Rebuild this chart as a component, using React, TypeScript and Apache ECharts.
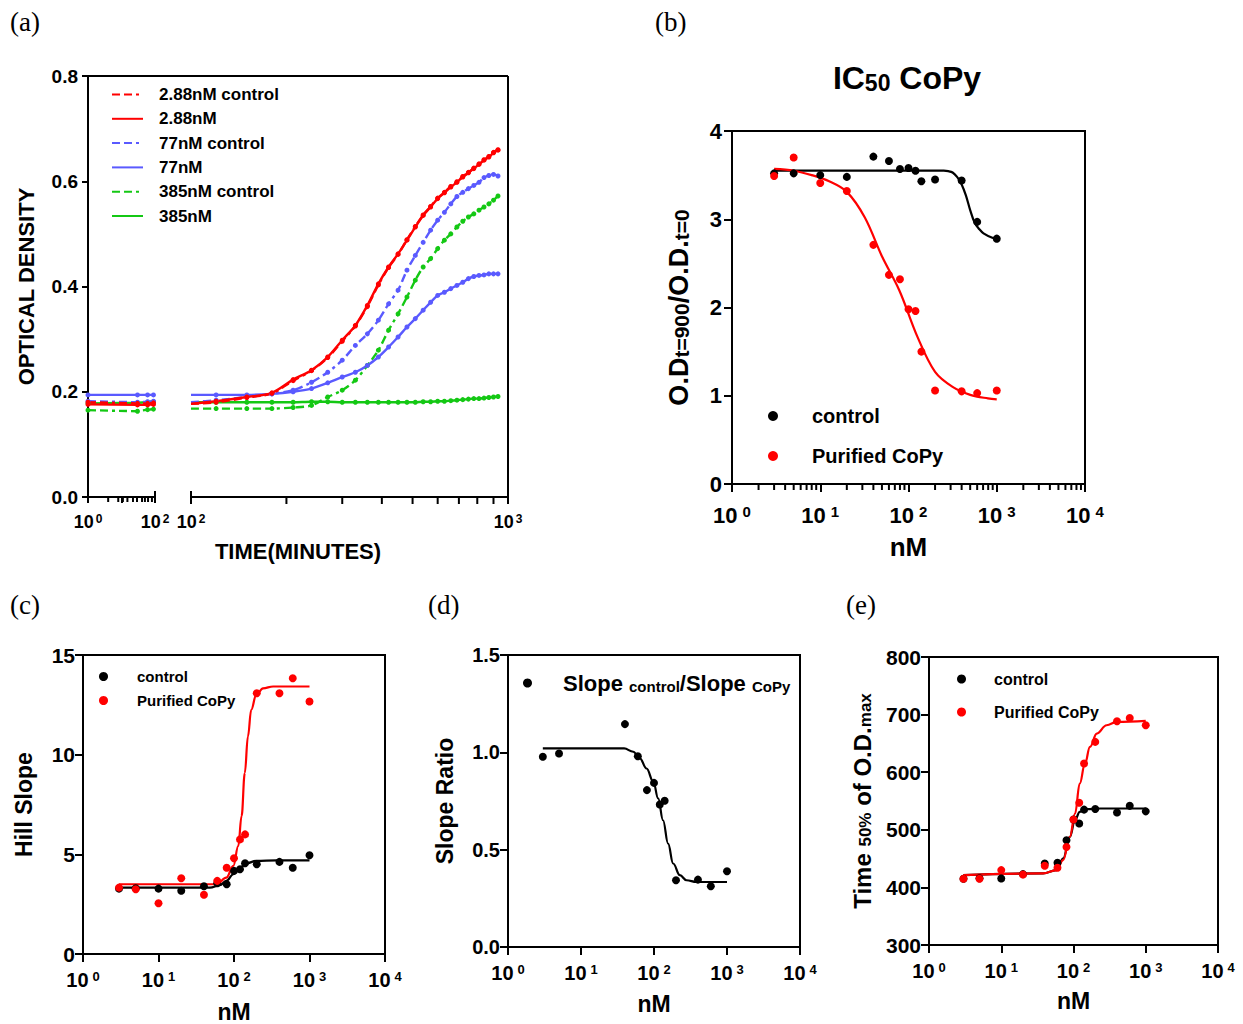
import React, { useEffect, useRef } from 'react';
import * as echarts from 'echarts';

const F = '"Liberation Sans", Arial, Helvetica, sans-serif';
const SERIF = '"Liberation Serif", "DejaVu Serif", serif';
const RED = '#ff0000';
const BLUE = '#5a5aff';
const GREEN = '#14c814';
const BLACK = '#000000';
const DASH = [8, 4, 8, 4, 3, 4];

// ---------------- Panel (a): growth curves (time in minutes) ----------------
const aNames = ['2.88nM control', '2.88nM', '77nM control', '77nM', '385nM control', '385nM'];
const timeA = [1, 30, 60, 90];
const timeB = [120, 150, 180, 210, 240, 270, 300, 330, 360, 390, 420, 450, 480, 510, 540, 570, 600, 630, 660, 690, 720, 750, 780, 810, 840, 870, 900, 930];
const breakTime = 100;

const red288CtrlA = [0.180, 0.178, 0.178, 0.179];
const red288A = [0.176, 0.175, 0.175, 0.176];
const blue77CtrlA = [0.182, 0.180, 0.181, 0.182];
const blue77A = [0.194, 0.194, 0.194, 0.194];
const green385CtrlA = [0.165, 0.163, 0.166, 0.167];
const green385A = [0.178, 0.179, 0.180, 0.181];

// line level at the axis break (t = 100) for segment A end / segment B start
const edgeA = [0.178, 0.175, 0.180, 0.194, 0.167, 0.180];
const edgeB = [0.177, 0.177, 0.180, 0.194, 0.168, 0.180];

const red288CtrlB = [0.180, 0.189, 0.197, 0.221, 0.240, 0.265, 0.296, 0.325, 0.362, 0.403, 0.436, 0.461, 0.489, 0.514, 0.536, 0.552, 0.568, 0.579, 0.590, 0.599, 0.609, 0.617, 0.625, 0.633, 0.641, 0.647, 0.655, 0.660];
const red288B = [0.182, 0.190, 0.198, 0.223, 0.241, 0.266, 0.298, 0.326, 0.364, 0.405, 0.437, 0.462, 0.488, 0.513, 0.535, 0.551, 0.567, 0.578, 0.589, 0.598, 0.608, 0.616, 0.624, 0.632, 0.640, 0.646, 0.654, 0.659];
const blue77CtrlB = [0.184, 0.190, 0.196, 0.203, 0.218, 0.237, 0.260, 0.288, 0.310, 0.336, 0.367, 0.393, 0.431, 0.459, 0.484, 0.507, 0.526, 0.541, 0.557, 0.571, 0.579, 0.586, 0.592, 0.598, 0.607, 0.611, 0.613, 0.610];
const blue77B = [0.194, 0.194, 0.196, 0.200, 0.206, 0.217, 0.228, 0.237, 0.250, 0.266, 0.285, 0.304, 0.323, 0.339, 0.355, 0.370, 0.383, 0.389, 0.396, 0.402, 0.408, 0.415, 0.419, 0.421, 0.422, 0.424, 0.424, 0.424];
const green385CtrlB = [0.168, 0.168, 0.168, 0.170, 0.174, 0.190, 0.203, 0.222, 0.250, 0.279, 0.317, 0.348, 0.380, 0.412, 0.437, 0.453, 0.472, 0.488, 0.500, 0.513, 0.524, 0.532, 0.538, 0.545, 0.551, 0.557, 0.564, 0.572];
const green385B = [0.180, 0.180, 0.180, 0.180, 0.181, 0.181, 0.180, 0.180, 0.180, 0.180, 0.180, 0.180, 0.180, 0.180, 0.181, 0.181, 0.182, 0.182, 0.183, 0.184, 0.185, 0.186, 0.187, 0.187, 0.188, 0.189, 0.190, 0.191];

const aTicksA = [4, 8, 11, 15, 22, 29, 41, 50, 62, 81];
const aTicksB = [200, 300, 400, 500, 600, 700, 800, 900];

// ---------------- Shared concentrations (nM) ----------------
const conc = [3, 5, 10, 20, 40, 60, 80, 100, 120, 140, 200, 400, 600, 1000];
const logMinor = [2, 3, 4, 5, 6, 7, 8, 9, 20, 30, 40, 50, 60, 70, 80, 90, 200, 300, 400, 500, 600, 700, 800, 900, 2000, 3000, 4000, 5000, 6000, 7000, 8000, 9000];

// ---------------- Panel (b): IC50 CoPy ----------------
const bControl = [3.52, 3.52, 3.50, 3.48, 3.71, 3.66, 3.57, 3.58, 3.55, 3.43, 3.45, 3.44, 2.97, 2.78];
const bCoPy = [3.49, 3.70, 3.41, 3.32, 2.71, 2.37, 2.32, 1.98, 1.96, 1.50, 1.06, 1.05, 1.03, 1.06];
const bControlFitX = [3, 20, 100, 200, 251, 282, 316, 355, 398, 447, 501, 562, 631, 708, 891, 1000];
const bControlFitY = [3.55, 3.55, 3.55, 3.55, 3.55, 3.545, 3.53, 3.48, 3.40, 3.27, 3.10, 2.96, 2.89, 2.84, 2.79, 2.78];
const bCoPyFitX = [3, 5, 8, 12.6, 20, 32, 50, 79, 126, 200, 316, 501, 794, 1000];
const bCoPyFitY = [3.57, 3.55, 3.50, 3.43, 3.31, 3.02, 2.58, 2.19, 1.67, 1.27, 1.10, 1.01, 0.97, 0.96];

// ---------------- Panel (c): Hill slope ----------------
const cControl = [3.28, 3.30, 3.28, 3.17, 3.40, 3.55, 3.50, 4.17, 4.25, 4.55, 4.50, 4.62, 4.33, 4.95];
const cCoPy = [3.33, 3.25, 2.55, 3.80, 2.97, 3.67, 4.33, 4.80, 5.75, 6.00, 13.08, 13.08, 13.83, 12.67];
const cControlFitX = [3, 48, 65, 79, 98, 120, 146, 197, 366, 1000];
const cControlFitY = [3.33, 3.33, 3.45, 3.67, 4.00, 4.33, 4.55, 4.67, 4.70, 4.70];
const cCoPyFitX = [3, 59, 79, 98, 114, 126, 139, 153, 169, 197, 242, 330, 1000];
const cCoPyFitY = [3.50, 3.50, 3.83, 4.42, 5.42, 6.92, 9.08, 10.92, 12.25, 13.00, 13.33, 13.42, 13.42];

// ---------------- Panel (d): slope ratio ----------------
const dConc = [3, 5, 40, 60, 80, 100, 120, 140, 200, 400, 600, 1000];
const dRatio = [0.977, 0.994, 1.145, 0.980, 0.806, 0.843, 0.732, 0.751, 0.343, 0.346, 0.312, 0.389];
const dFitX = [3, 39, 52, 64, 79, 98, 114, 133, 156, 183, 226, 279, 381, 1000];
const dFitY = [1.02, 1.02, 1.003, 0.969, 0.917, 0.849, 0.763, 0.651, 0.531, 0.429, 0.369, 0.343, 0.334, 0.334];

// ---------------- Panel (e): time to 50% of max OD ----------------
const eControl = [415, 416, 415.6, 423, 441.6, 442.8, 482, 518, 511, 535, 536, 530, 541.6, 532];
const eCoPy = [415, 415, 430, 422.5, 437.5, 434, 470, 518, 547, 615, 652.6, 688.4, 694.2, 681.5];
const eControlFitX = [3, 38, 58, 72, 89, 105, 122, 152, 233, 1000];
const eControlFitY = [421.4, 424.3, 430, 450.3, 487.9, 516.8, 531.2, 535.8, 537, 537];
const eCoPyFitX = [3, 38, 58, 72, 89, 105, 122, 144, 169, 210, 287, 397, 1000];
const eCoPyFitY = [421.4, 424.3, 430, 447.4, 487.9, 528.3, 580.3, 615, 643.9, 667, 681.5, 687.3, 689];

// ---------------- Layout ----------------
const GA = { left: 88, top: 76, width: 67, height: 421 };
const GB = { left: 191, top: 76, width: 317, height: 421 };
const G2 = { left: 732, top: 131, width: 353, height: 353 };
const G3 = { left: 83, top: 655, width: 302, height: 300 };
const G4 = { left: 508, top: 655, width: 292, height: 292 };
const G5 = { left: 929, top: 657, width: 289, height: 288 };

const zip = (xs: number[], ys: number[]) => xs.map((x, i) => [x, ys[i]]);

const supLabel = (fs: number, sfs: number, margin: number, hide: number[] = [], gap = 0.22) => ({
  margin,
  color: '#000',
  formatter: (v: number) => {
    const e = Math.round(Math.log10(v));
    if (hide.indexOf(e) >= 0) return '';
    return `{b|10}{s|${e}}`;
  },
  rich: {
    b: { fontFamily: F, fontWeight: 'bold', fontSize: fs, color: '#000' },
    s: { fontFamily: F, fontWeight: 'bold', fontSize: sfs, color: '#000', verticalAlign: 'top', padding: [0, 0, 0, Math.round(fs * gap)] },
  },
});

const axLine = { show: true, onZero: false, lineStyle: { color: '#000', width: 2 } };

function logX(gi: number, min: number, max: number, o: any) {
  return {
    type: 'log', logBase: 10, gridIndex: gi, min, max,
    axisLine: axLine,
    axisTick: { show: true, length: o.tick, lineStyle: { color: '#000', width: 2 } },
    splitLine: { show: false },
    axisLabel: supLabel(o.fs, o.sfs, o.margin, o.hide, o.gap),
    name: o.name || '',
    nameLocation: 'middle',
    nameGap: o.nameGap || 0,
    nameTextStyle: { fontFamily: F, fontWeight: 'bold', fontSize: o.nameFs || 22, color: '#000' },
  };
}

function valY(gi: number, min: number, max: number, interval: number, o: any) {
  return {
    type: 'value', gridIndex: gi, min, max, interval,
    show: o.show !== false,
    axisLine: axLine,
    axisTick: { show: true, length: o.tick, lineStyle: { color: '#000', width: 2 } },
    splitLine: { show: false },
    axisLabel: { color: '#000', fontFamily: F, fontWeight: 'bold', fontSize: o.fs, margin: o.margin, formatter: o.fmt },
    name: o.name || '',
    nameLocation: 'middle',
    nameRotate: 90,
    nameGap: o.nameGap || 0,
    nameTextStyle: { fontFamily: F, fontWeight: 'bold', fontSize: o.nameFs || 22, color: '#000', rich: o.rich },
  };
}

function tickSeries(gi: number, values: number[], yMin: number, len: number, up = 0) {
  return {
    type: 'custom', xAxisIndex: gi, yAxisIndex: gi, silent: true, clip: false, z: 5,
    data: values.map((v) => [v, yMin]),
    renderItem: (_p: any, api: any) => {
      const p = api.coord([api.value(0), api.value(1)]);
      return { type: 'line', shape: { x1: p[0], y1: p[1] - up, x2: p[0], y2: p[1] + len }, style: { stroke: '#000', lineWidth: 2 } };
    },
  };
}

function scatter(gi: number, name: string, color: string, xs: number[], ys: number[], size = 8) {
  return { type: 'scatter', name, xAxisIndex: gi, yAxisIndex: gi, symbol: 'circle', symbolSize: size, itemStyle: { color, opacity: 1 }, data: zip(xs, ys), z: 4 };
}

function fit(gi: number, color: string, xs: number[], ys: number[], mono = true) {
  return {
    type: 'line', xAxisIndex: gi, yAxisIndex: gi, symbol: 'none', smooth: mono ? 0.4 : 0.35, smoothMonotone: mono ? 'x' : undefined,
    lineStyle: { color, width: 2.2 }, data: zip(xs, ys), z: 3, silent: true,
  };
}

function buildOption() {
  const aColors = [RED, RED, BLUE, BLUE, GREEN, GREEN];
  const aDashed = [true, false, true, false, true, false];
  const aPtsA = [red288CtrlA, red288A, blue77CtrlA, blue77A, green385CtrlA, green385A];
  const aPtsB = [red288CtrlB, red288B, blue77CtrlB, blue77B, green385CtrlB, green385B];
  const drawOrder = [5, 4, 3, 2, 0, 1];

  const series: any[] = [];
  drawOrder.forEach((k) => {
    series.push({
      type: 'line', name: aNames[k], xAxisIndex: 0, yAxisIndex: 0, symbol: 'none', smooth: false,
      lineStyle: { color: aColors[k], width: 2.4, type: aDashed[k] ? DASH : 'solid' }, itemStyle: { color: aColors[k] },
      data: [...zip(timeA, aPtsA[k]), [breakTime, edgeA[k]]],
    });
  });
  drawOrder.forEach((k) => {
    series.push({
      type: 'line', name: aNames[k], xAxisIndex: 1, yAxisIndex: 1, symbol: 'none', smooth: 0.3,
      lineStyle: { color: aColors[k], width: 2.4, type: aDashed[k] ? DASH : 'solid' }, itemStyle: { color: aColors[k] },
      data: [[breakTime, edgeB[k]], ...zip(timeB, aPtsB[k])],
    });
  });
  drawOrder.forEach((k) => {
    series.push(scatter(0, aNames[k] + ' pts', aColors[k], timeA, aPtsA[k], 5));
    series.push(scatter(1, aNames[k] + ' pts', aColors[k], timeB, aPtsB[k], 5));
  });
  series.push(tickSeries(0, aTicksA, 0, 5));
  series.push(tickSeries(1, aTicksB, 0, 7));
  series.push(tickSeries(0, [breakTime], 0, 6, 6));
  series.push(tickSeries(1, [breakTime], 0, 6, 6));

  // (b)
  series.push(scatter(2, 'control', BLACK, conc, bControl));
  series.push(scatter(2, 'Purified CoPy', RED, conc, bCoPy));
  series.push(fit(2, BLACK, bControlFitX, bControlFitY, false));
  series.push(fit(2, RED, bCoPyFitX, bCoPyFitY, false));
  series.push(tickSeries(2, logMinor, 0, 6));
  // (c)
  series.push(fit(3, BLACK, cControlFitX, cControlFitY));
  series.push(fit(3, RED, cCoPyFitX, cCoPyFitY));
  series.push(scatter(3, 'control', BLACK, conc, cControl));
  series.push(scatter(3, 'Purified CoPy', RED, conc, cCoPy));
  // (d)
  series.push(fit(4, BLACK, dFitX, dFitY));
  series.push(scatter(4, 'Slope control/Slope CoPy', BLACK, dConc, dRatio));
  // (e)
  series.push(fit(5, BLACK, eControlFitX, eControlFitY));
  series.push(fit(5, RED, eCoPyFitX, eCoPyFitY));
  series.push(scatter(5, 'control', BLACK, conc, eControl));
  series.push(scatter(5, 'Purified CoPy', RED, conc, eCoPy));

  const gridBase = { containLabel: false };
  const boxed = { show: true, borderColor: '#000', borderWidth: 2 };

  const legendText = (fs: number, pad: number, bold = true) => ({
    fontFamily: F, fontSize: fs, fontWeight: bold ? 'bold' : 'normal', color: '#000', padding: [0, 0, 0, pad],
  });

  return {
    animation: false,
    backgroundColor: '#ffffff',
    grid: [
      { ...gridBase, ...GA },
      { ...gridBase, ...GB },
      { ...gridBase, ...boxed, ...G2 },
      { ...gridBase, ...boxed, ...G3 },
      { ...gridBase, ...boxed, ...G4 },
      { ...gridBase, ...boxed, ...G5 },
    ],
    xAxis: [
      logX(0, 1, 100, { tick: 6, fs: 18, sfs: 12, margin: 16, hide: [1], gap: 0.12 }),
      logX(1, 100, 1000, { tick: 7, fs: 18, sfs: 12, margin: 16, gap: 0.12 }),
      logX(2, 1, 10000, { tick: 8, fs: 22, sfs: 15, margin: 20, name: 'nM', nameGap: 50, nameFs: 26 }),
      logX(3, 1, 10000, { tick: 8, fs: 20, sfs: 13, margin: 16, name: 'nM', nameGap: 46, nameFs: 23 }),
      logX(4, 1, 10000, { tick: 8, fs: 20, sfs: 13, margin: 16, name: 'nM', nameGap: 45, nameFs: 23 }),
      logX(5, 1, 10000, { tick: 8, fs: 20, sfs: 13, margin: 16, name: 'nM', nameGap: 44, nameFs: 23 }),
    ],
    yAxis: [
      valY(0, 0, 0.8, 0.2, { tick: 6, fs: 19, margin: 10, fmt: (v: number) => v.toFixed(1), name: 'OPTICAL DENSITY', nameGap: 51, nameFs: 22 }),
      valY(1, 0, 0.8, 0.2, { show: false, tick: 0, fs: 10, margin: 0 }),
      valY(2, 0, 4, 1, {
        tick: 8, fs: 22, margin: 10, fmt: (v: number) => String(v), nameGap: 40,
        name: '{b|O.D}{s|t=900}{b|/O.D.}{s|t=0}',
        rich: {
          b: { fontFamily: F, fontWeight: 'bold', fontSize: 27, color: '#000' },
          s: { fontFamily: F, fontWeight: 'bold', fontSize: 21, color: '#000', verticalAlign: 'bottom' },
        },
      }),
      valY(3, 0, 15, 5, { tick: 8, fs: 21, margin: 8, fmt: (v: number) => String(v), name: 'Hill Slope', nameGap: 48, nameFs: 23 }),
      valY(4, 0, 1.5, 0.5, { tick: 8, fs: 20, margin: 8, fmt: (v: number) => v.toFixed(1), name: 'Slope Ratio', nameGap: 52, nameFs: 23 }),
      valY(5, 300, 800, 100, {
        tick: 8, fs: 21, margin: 8, fmt: (v: number) => String(v), nameGap: 55,
        name: '{b|Time }{s|50%}{b| of O.D.}{s|max}',
        rich: {
          b: { fontFamily: F, fontWeight: 'bold', fontSize: 24, color: '#000' },
          s: { fontFamily: F, fontWeight: 'bold', fontSize: 17, color: '#000', verticalAlign: 'bottom' },
        },
      }),
    ],
    legend: [
      {
        data: aNames, orient: 'vertical', left: 111, top: 86, padding: 0, itemWidth: 31, itemHeight: 14, itemGap: 7.3,
        itemStyle: { color: 'rgba(0,0,0,0)', opacity: 0, borderWidth: 0 },
        textStyle: legendText(17, 11), selectedMode: false,
      },
      {
        data: ['control', 'Purified CoPy'], orient: 'vertical', left: 768, top: 406, padding: 0, itemWidth: 10, itemHeight: 10, itemGap: 20,
        icon: 'circle', textStyle: legendText(20, 29), selectedMode: false,
      },
      {
        data: ['control', 'Purified CoPy'], orient: 'vertical', left: 99, top: 669, padding: 0, itemWidth: 9, itemHeight: 9, itemGap: 9,
        icon: 'circle', textStyle: legendText(15, 24), selectedMode: false,
      },
      {
        data: ['Slope control/Slope CoPy'], orient: 'vertical', left: 523, top: 672, padding: 0, itemWidth: 9, itemHeight: 9,
        icon: 'circle', selectedMode: false,
        formatter: () => '{b|Slope }{s|control}{b|/Slope }{s|CoPy}',
        textStyle: {
          padding: [0, 0, 0, 26], color: '#000',
          rich: {
            b: { fontFamily: F, fontWeight: 'bold', fontSize: 22, color: '#000' },
            s: { fontFamily: F, fontWeight: 'bold', fontSize: 15, color: '#000', verticalAlign: 'bottom' },
          },
        },
      },
      {
        data: ['control', 'Purified CoPy'], orient: 'vertical', left: 957, top: 671, padding: 0, itemWidth: 9, itemHeight: 9, itemGap: 17,
        icon: 'circle', textStyle: legendText(16, 23), selectedMode: false,
      },
    ],
    graphic: [
      { type: 'line', shape: { x1: GA.left, y1: GA.top, x2: GB.left + GB.width, y2: GB.top }, style: { stroke: '#000', lineWidth: 2 }, silent: true },
      { type: 'line', shape: { x1: GB.left + GB.width, y1: GB.top, x2: GB.left + GB.width, y2: GB.top + GB.height }, style: { stroke: '#000', lineWidth: 2 }, silent: true },
      { type: 'text', x: 298, y: 551, style: { text: 'TIME(MINUTES)', font: `bold 22px ${F}`, fill: '#000', align: 'center', verticalAlign: 'middle' }, silent: true },
      {
        type: 'text', x: 907, y: 78, silent: true,
        style: {
          text: '{b|IC}{s|50}{b| CoPy}', align: 'center', verticalAlign: 'middle', fill: '#000',
          rich: {
            b: { fontFamily: F, fontWeight: 'bold', fontSize: 32, fill: '#000' },
            s: { fontFamily: F, fontWeight: 'bold', fontSize: 23, fill: '#000', verticalAlign: 'bottom' },
          },
        },
      },
      { type: 'text', x: 10, y: 22, style: { text: '(a)', font: `27px ${SERIF}`, fill: '#000', verticalAlign: 'middle' }, silent: true },
      { type: 'text', x: 655, y: 22, style: { text: '(b)', font: `27px ${SERIF}`, fill: '#000', verticalAlign: 'middle' }, silent: true },
      { type: 'text', x: 10, y: 605, style: { text: '(c)', font: `27px ${SERIF}`, fill: '#000', verticalAlign: 'middle' }, silent: true },
      { type: 'text', x: 428, y: 605, style: { text: '(d)', font: `27px ${SERIF}`, fill: '#000', verticalAlign: 'middle' }, silent: true },
      { type: 'text', x: 846, y: 605, style: { text: '(e)', font: `27px ${SERIF}`, fill: '#000', verticalAlign: 'middle' }, silent: true },
    ],
    series,
  };
}

export default function App() {
  const ref = useRef<HTMLDivElement>(null);
  useEffect(() => {
    document.body.style.margin = '0';
    const chart = echarts.init(ref.current as HTMLDivElement, null, { renderer: 'svg', width: 1243, height: 1024 });
    chart.setOption(buildOption() as any);
    return () => chart.dispose();
  }, []);
  return <div ref={ref} style={{ position: 'absolute', left: 0, top: 0, width: 1243, height: 1024, background: '#fff' }} />;
}
